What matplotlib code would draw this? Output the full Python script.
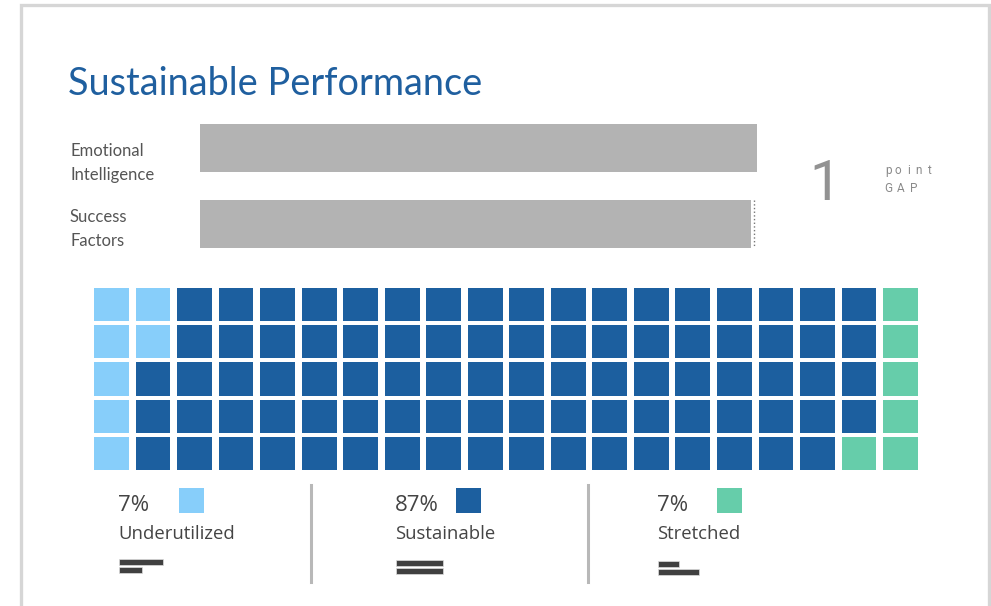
import numpy as np
import matplotlib
matplotlib.use("Agg")
import matplotlib.pyplot as plt
from matplotlib.lines import Line2D

# data
score_names = ["Emotional\nIntelligence", "Success\nFactors"]
scores = [100, 99]

categories = ["Underutilized", "Sustainable", "Stretched"]
cell_counts = [7, 87, 6]
pct_labels = ["7%", "87%", "7%"]
cat_colors = ["#87cefa", "#1c5f9f", "#66cdaa"]

# little two-bar icons under each category
icon_top = [44, 47, 21]
icon_bottom = [23, 47, 41]

n_rows, n_cols = 5, 20

W, H = 991, 606
fig = plt.figure(figsize=(W / 100, H / 100), dpi=100)


def px_axes(x0, y0, x1, y1):
    ax = fig.add_axes([x0 / W, 1 - y1 / H, (x1 - x0) / W, (y1 - y0) / H])
    ax.set_axis_off()
    return ax


def ftext(x, y, s, **kw):
    return fig.text(x / W, 1 - y / H, s, **kw)


# card border (no bottom edge)
fig.add_artist(Line2D([20.5 / W, 20.5 / W, 988.5 / W, 988.5 / W],
                      [0, 1 - 5 / H, 1 - 5 / H, 0],
                      color="#d6d6d6", lw=2.4, transform=fig.transFigure,
                      solid_joinstyle="miter"))

ftext(68, 95, "Sustainable Performance", fontsize=27.3, color="#1f5f9f",
      family="Lato", va="baseline", ha="left")

# score bars
ax = px_axes(200, 124, 757, 248)
ypos = np.arange(len(scores))
ax.barh(ypos, scores, height=48 / 76, color="#b3b3b3")
ax.set_xlim(0, max(scores))
ax.set_ylim(1 + 24 / 76, -24 / 76)
ax.vlines(scores[1] + 0.4, 1 - 24 / 76, 1 + 24 / 76, color="#777777",
          lw=1, linestyles=":")

label_base = [(156, 180), (222, 246)]
for name, (b1, b2) in zip(score_names, label_base):
    l1, l2 = name.split("\n")
    ftext(70, b1, l1, fontsize=12, color="#555555", family="Lato", va="baseline")
    ftext(70, b2, l2, fontsize=12, color="#555555", family="Lato", va="baseline")

gap = scores[0] - scores[1]
ftext(809, 200, str(gap), fontsize=40, color="#929292", family="Roboto",
      va="baseline")
# letter-spaced caption
for k, ch in enumerate("point"):
    ftext(888 + 10.2 * k, 174, ch, fontsize=8.5, color="#8a8a8a",
          family="Roboto", va="baseline", ha="center")
for k, ch in enumerate("GAP"):
    ftext(888 + 13 * k, 192, ch, fontsize=8.5, color="#8a8a8a",
          family="Roboto", va="baseline", ha="center")

# waffle grid, filled column by column
axw = px_axes(94, 288, 918, 470)
cell_w, cell_h = 0.84, 0.89
idx = np.arange(n_rows * n_cols)
cols = idx // n_rows
rows = idx % n_rows
cell_cat = np.repeat(np.arange(len(categories)), cell_counts)
axw.bar(cols, cell_h, bottom=rows, width=cell_w, align="edge",
        color=[cat_colors[c] for c in cell_cat])
axw.set_xlim(0, n_cols - 1 + cell_w)
axw.set_ylim(n_rows - 1 + cell_h, 0)

# legend blocks
text_x = [118, 395, 657]
square_x = [179, 456, 717]
icon_y = [558, 559, 560]
for i, cat in enumerate(categories):
    ftext(text_x[i], 511, pct_labels[i], fontsize=16, color="#444444",
          family="Open Sans", va="baseline")
    ftext(text_x[i], 539, cat, fontsize=13.3, color="#444444",
          family="Open Sans", va="baseline")
    sq = px_axes(square_x[i], 488, square_x[i] + 25, 513)
    sq.bar([0], [1], width=1, align="edge", color=cat_colors[i])
    sq.set_xlim(0, 1)
    sq.set_ylim(0, 1)
    ic = px_axes(text_x[i] + 1, icon_y[i], text_x[i] + 51, icon_y[i] + 16)
    ic.barh([0, 1], [icon_top[i], icon_bottom[i]], height=0.75, align="center",
            color="#404040", edgecolor="#dddddd", lw=0.5)
    ic.set_xlim(0, 50)
    ic.set_ylim(1.5, -0.5)

for sx in [311, 588]:
    fig.add_artist(Line2D([sx / W, sx / W], [1 - 485 / H, 1 - 582 / H],
                          color="#b8b8b8", lw=2.2, transform=fig.transFigure))

fig.savefig("out.png", dpi=100)
